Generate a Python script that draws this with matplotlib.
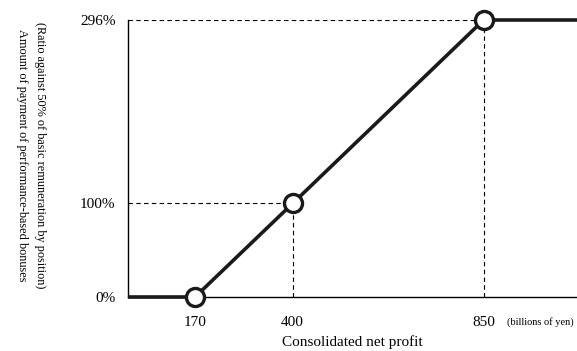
import matplotlib
matplotlib.use("Agg")
import matplotlib.pyplot as plt

plt.rcParams['font.family'] = ['Liberation Serif', 'DejaVu Serif']

# points of the bonus curve
profit = [170, 400, 850]          # consolidated net profit (billions of yen)
ratio = [0, 100, 296]             # payment ratio (%)
x_ticks = [170, 400, 850]
y_ticks = [0, 100, 296]
y_ticklabels = ["0%", "100%", "296%"]

X_MIN, X_MAX = 12, 1070
Y_MIN, Y_MAX = 0, 296

fig = plt.figure(figsize=(5.77, 3.51), dpi=100)
ax = fig.add_axes([128 / 577, 54 / 351, 449 / 577, 277 / 351])
ax.set_xlim(X_MIN, X_MAX)
ax.set_ylim(Y_MIN, Y_MAX)

# guide lines
dash = dict(color='black', lw=0.8, linestyle=(0, (4, 3)), zorder=1)
ax.plot([X_MIN, profit[1]], [ratio[1], ratio[1]], **dash)
ax.plot([profit[1], profit[1]], [Y_MIN, ratio[1]], **dash)
ax.plot([X_MIN, profit[2]], [ratio[2], ratio[2]], **dash)
ax.plot([profit[2], profit[2]], [Y_MIN, ratio[2]], **dash)

# bonus curve: flat at 0 before threshold, flat at cap after 850
line_x = [X_MIN] + profit + [X_MAX]
line_y = [ratio[0]] + ratio + [ratio[-1]]
ax.plot(line_x, line_y, color='#1a1a1a', lw=2.6, solid_capstyle='butt',
        clip_on=False, zorder=3)
ax.plot(profit, ratio, 'o', ms=13, mfc='white', mec='#1a1a1a', mew=2.4,
        clip_on=False, zorder=4)

for s in ['top', 'right']:
    ax.spines[s].set_visible(False)
for s in ['left', 'bottom']:
    ax.spines[s].set_linewidth(1.0)

ax.set_xticks(x_ticks)
ax.set_xticklabels([str(v) for v in x_ticks], fontsize=11)
ax.set_yticks(y_ticks)
ax.set_yticklabels(y_ticklabels, fontsize=11)
ax.tick_params(axis='both', length=0)
ax.tick_params(axis='x', pad=14)
ax.tick_params(axis='y', pad=9)

ax.set_xlabel("Consolidated net profit", fontsize=11, labelpad=4)
fig.text(540 / 577, 1 - 322 / 351, "(billions of yen)", fontsize=7.5,
         ha='center', va='center')

fig.text(31 / 577, 1 - 155 / 351,
         "(Ratio against 50% of basic remuneration by position)\n"
         "Amount of payment of performance-based bonuses",
         rotation=270, fontsize=8.8, ha='center', va='center',
         multialignment='center', linespacing=1.6)

fig.savefig("out.png", dpi=100)
